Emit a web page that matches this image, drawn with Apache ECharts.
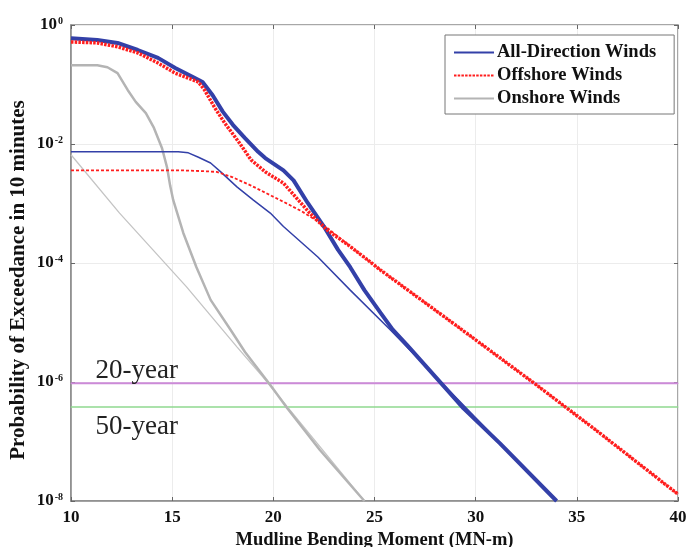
<!DOCTYPE html>
<html>
<head>
<meta charset="utf-8">
<script src="https://cdn.jsdelivr.net/npm/echarts@6/dist/echarts.min.js"></script>
<style>
  html, body { margin: 0; padding: 0; background: #fff; }
  #main { width: 686px; height: 547px; }
</style>
</head>
<body>
<div id="main"></div>
<script>
// All-Direction Winds, empirical (thick blue)
var allX = [10, 11.3, 12.3, 13.3, 14.3, 15.15, 16.0, 16.5, 17.0, 17.5, 18.0, 18.6, 19.25, 19.6, 20.5, 21.0, 21.7, 22.5, 23.2, 23.8, 24.5, 25.3, 25.9, 26.6, 28.3, 29.4, 31.2, 34.0];
var allY = [0.60, 0.56, 0.50, 0.38, 0.28, 0.19, 0.135, 0.11, 0.066, 0.035, 0.021, 0.0126, 0.0074, 0.0058, 0.0036, 0.00245, 0.00102, 4.1e-4, 1.66e-4, 8.5e-5, 3.5e-5, 1.45e-5, 7.6e-6, 4.2e-6, 9.5e-7, 3.6e-7, 9.3e-8, 1.0e-8];
// All-Direction fit (thin blue)
var allFitX = [10, 14.5, 15.3, 15.8, 16.3, 16.9, 17.4, 18.2, 19.0, 19.85, 20.5, 22.2, 23.8, 25.8, 30, 34];
var allFitY = [0.0074, 0.0074, 0.0074, 0.0071, 0.0060, 0.0048, 0.0034, 0.0019, 0.00115, 6.9e-4, 4.1e-4, 1.26e-4, 3.5e-5, 7.4e-6, 2.5e-7, 1.0e-8];
// Offshore Winds, empirical (thick red dotted)
var offX = [10, 11.3, 12.3, 13.3, 14.3, 15.15, 16.3, 16.6, 17.1, 17.6, 18.3, 18.9, 19.6, 20.5, 21.8, 22.3, 22.7, 23.8, 25.3, 29, 32.9, 36, 40];
var offY = [0.52, 0.50, 0.43, 0.34, 0.23, 0.155, 0.11, 0.081, 0.041, 0.0224, 0.0107, 0.0054, 0.0034, 0.0022, 6.9e-4, 4.7e-4, 3.5e-4, 1.9e-4, 7.6e-5, 9.1e-6, 9.5e-7, 1.5e-7, 1.3e-8];
// Offshore fit (thin red dashed)
var offFitX = [10, 15.5, 16.5, 17.2, 18.0, 18.9, 19.9, 20.5, 21.4, 22.2, 22.7, 23.8, 25.3, 29, 32.9, 36, 40];
var offFitY = [0.0036, 0.0036, 0.0035, 0.0034, 0.00275, 0.0020, 0.00135, 0.00107, 7.4e-4, 5.0e-4, 3.8e-4, 1.9e-4, 7.6e-5, 9.1e-6, 9.5e-7, 1.5e-7, 1.3e-8];
// Onshore Winds, empirical (thick gray)
var onX = [10, 11.3, 11.8, 12.3, 12.8, 13.2, 13.7, 14.1, 14.5, 14.75, 14.9, 15.05, 15.55, 16.2, 16.9, 17.9, 18.6, 19.85, 20.7, 22.3, 24.5];
var onY = [0.21, 0.21, 0.195, 0.155, 0.081, 0.051, 0.033, 0.0186, 0.0085, 0.0040, 0.0020, 0.00115, 3.2e-4, 8.5e-5, 2.4e-5, 7.4e-6, 3.2e-6, 8.9e-7, 3.6e-7, 7.2e-8, 1.0e-8];
// Onshore fit (thin gray)
var onFitX = [10, 12.4, 15.7, 18.2, 19.5, 24.5];
var onFitY = [0.0066, 6.9e-4, 4.0e-5, 3.9e-6, 1.2e-6, 1.0e-8];
// return period levels
var levelNames = ['20-year', '50-year'];
var levelValues = [9.5e-7, 3.8e-7];
var levelColors = ['#cc8ad8', '#8fd88f'];
var xTicks = [10, 15, 20, 25, 30, 35, 40];

function pairs(xs, ys) {
    var out = [];
    for (var i = 0; i < xs.length; i++) out.push([xs[i], ys[i]]);
    return out;
}

var serif = 'Liberation Serif';
var blue = '#3340a8';
var red = '#ff1e1e';
var gray = '#b4b4b4';

// horizontal return-period line, labelled at its left end
function levelSeries(i, offsetY) {
    return {
        name: levelNames[i], type: 'line', z: 1, clip: false,
        data: [
            { value: [10, levelValues[i]],
              label: { show: true, formatter: levelNames[i], position: 'right', distance: 0, offset: [24, offsetY],
                       fontFamily: serif, fontSize: 27, color: '#222' } },
            { value: [40, levelValues[i]] }
        ],
        symbol: 'circle', symbolSize: 1, showSymbol: true,
        itemStyle: { color: levelColors[i] },
        label: { show: false },
        lineStyle: { color: levelColors[i], width: i === 0 ? 2 : 1.5 }
    };
}

var chart = echarts.init(document.getElementById('main'));
var option = {
    backgroundColor: '#fff',
    animation: false,
    grid: { left: 71, right: 8, top: 25, bottom: 46, outerBoundsMode: 'none', show: true, borderColor: '#8a8a8a', borderWidth: 1.5 },
    legend: {
        data: ['All-Direction Winds', 'Offshore Winds', 'Onshore Winds'],
        orient: 'vertical',
        left: 445,
        top: 35,
        padding: [8, 18, 6, 8],
        itemGap: 4,
        itemWidth: 40,
        itemHeight: 14,
        itemStyle: { opacity: 0 },
        backgroundColor: '#fff',
        borderColor: '#777',
        borderWidth: 1,
        borderRadius: 0,
        textStyle: { fontFamily: serif, fontWeight: 'bold', fontSize: 18.5, color: '#111', padding: [0, 0, 0, -2] }
    },
    xAxis: [{
        type: 'value', min: 10, max: 40, interval: 5,
        name: 'Mudline Bending Moment (MN-m)',
        nameLocation: 'middle', nameGap: 30,
        nameTextStyle: { fontFamily: serif, fontWeight: 'bold', fontSize: 18.5, color: '#111' },
        axisLine: { lineStyle: { color: '#8a8a8a', width: 1.5 } },
        axisTick: { inside: true, length: 4, lineStyle: { color: '#666' } },
        axisLabel: { fontFamily: serif, fontWeight: 'bold', fontSize: 17, color: '#111', margin: 8,
            formatter: function (v) { return xTicks.indexOf(v) >= 0 ? String(v) : ''; } },
        splitLine: { show: true, lineStyle: { color: '#ececec', width: 1 } }
    }, {
        type: 'value', min: 10, max: 40, interval: 5, position: 'top',
        axisLine: { show: false },
        axisTick: { inside: true, length: 4, lineStyle: { color: '#666' } },
        axisLabel: { show: false }, splitLine: { show: false }
    }],
    yAxis: [{
        type: 'log', logBase: 10, min: 1e-8, max: 1, interval: 2,
        name: 'Probability of Exceedance in 10 minutes',
        nameLocation: 'middle', nameGap: 42, nameMoveOverlap: false,
        nameTextStyle: { fontFamily: serif, fontWeight: 'bold', fontSize: 21, color: '#111', padding: [0, 34, 0, 0] },
        axisLine: { lineStyle: { color: '#8a8a8a', width: 1.5 } },
        axisTick: { inside: true, length: 4, lineStyle: { color: '#666' } },
        axisLabel: {
            margin: 8,
            formatter: function (v) {
                var e = Math.round(Math.log10(v));
                return '{b|10}{s|' + e + '}';
            },
            rich: {
                b: { fontFamily: serif, fontWeight: 'bold', fontSize: 17, color: '#111' },
                s: { fontFamily: serif, fontWeight: 'bold', fontSize: 10, color: '#111', verticalAlign: 'top', padding: [0, 0, 8, 1] }
            }
        },
        splitLine: { show: true, lineStyle: { color: '#ececec', width: 1 } }
    }, {
        type: 'log', logBase: 10, min: 1e-8, max: 1, interval: 2, position: 'right',
        axisLine: { show: false },
        axisTick: { inside: true, length: 4, lineStyle: { color: '#666' } },
        axisLabel: { show: false }, splitLine: { show: false }
    }],
    series: [
        levelSeries(0, -12),
        levelSeries(1, 20),
        {
            name: 'Onshore Winds Fit', type: 'line', data: pairs(onFitX, onFitY),
            symbol: 'none', lineStyle: { color: '#c4c4c4', width: 1.3 }, itemStyle: { color: '#c4c4c4' }, z: 2
        },
        {
            name: 'Onshore Winds', type: 'line', data: pairs(onX, onY),
            symbol: 'none',
            lineStyle: { color: gray, width: 2.5 }, itemStyle: { color: gray }, z: 3
        },
        {
            name: 'All-Direction Fit', type: 'line', data: pairs(allFitX, allFitY),
            symbol: 'none',
            lineStyle: { color: blue, width: 1.5 }, itemStyle: { color: blue }, z: 3
        },
        {
            name: 'Offshore Fit', type: 'line', data: pairs(offFitX, offFitY),
            symbol: 'none',
            lineStyle: { color: red, width: 1.8, type: [3, 2] }, itemStyle: { color: red }, z: 4
        },
        {
            name: 'All-Direction Winds', type: 'line', data: pairs(allX, allY),
            symbol: 'none',
            lineStyle: { color: blue, width: 4 }, itemStyle: { color: blue }, z: 5
        },
        {
            name: 'Offshore Winds', type: 'line', data: pairs(offX, offY),
            symbol: 'none',
            lineStyle: { color: red, width: 3.5, type: [2.5, 1.2] }, itemStyle: { color: red }, z: 6
        }
    ]
};
chart.setOption(option);
</script>
</body>
</html>
